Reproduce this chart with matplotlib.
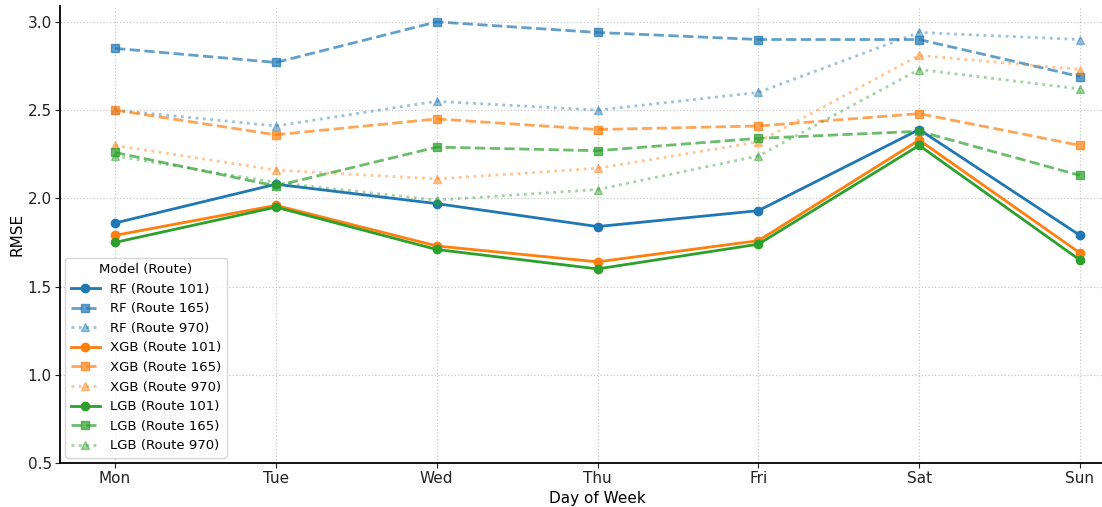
import matplotlib
matplotlib.use("Agg")
import matplotlib.pyplot as plt

days = ["Mon", "Tue", "Wed", "Thu", "Fri", "Sat", "Sun"]

rf_101 = [1.86, 2.08, 1.97, 1.84, 1.93, 2.39, 1.79]
rf_165 = [2.85, 2.77, 3.00, 2.94, 2.90, 2.90, 2.69]
rf_970 = [2.50, 2.41, 2.55, 2.50, 2.60, 2.94, 2.90]
xgb_101 = [1.79, 1.96, 1.73, 1.64, 1.76, 2.33, 1.69]
xgb_165 = [2.50, 2.36, 2.45, 2.39, 2.41, 2.48, 2.30]
xgb_970 = [2.30, 2.16, 2.11, 2.17, 2.32, 2.81, 2.73]
lgb_101 = [1.75, 1.95, 1.71, 1.60, 1.74, 2.30, 1.65]
lgb_165 = [2.26, 2.07, 2.29, 2.27, 2.34, 2.38, 2.13]
lgb_970 = [2.24, 2.09, 1.99, 2.05, 2.24, 2.73, 2.62]

models = [("RF", "#1f77b4", [rf_101, rf_165, rf_970]),
          ("XGB", "#ff7f0e", [xgb_101, xgb_165, xgb_970]),
          ("LGB", "#2ca02c", [lgb_101, lgb_165, lgb_970])]
routes = ["101", "165", "970"]
styles = [("-", "o", 1.0), ("--", "s", 0.7), (":", "^", 0.45)]

fig = plt.figure(figsize=(11.02, 5.07), dpi=100)
# the reference looks cropped on the right, so the axes run past the figure edge
ax = fig.add_axes([60 / 1102, 44 / 507, 1075 / 1102, 457 / 507])

x = range(len(days))
for name, color, series in models:
    for route, vals, (ls, mk, a) in zip(routes, series, styles):
        ax.plot(x, vals, linestyle=ls, marker=mk, color=color, alpha=a,
                linewidth=2, markersize=6, label=f"{name} (Route {route})")

ax.set_xticks(list(x))
ax.set_xticklabels(days)
ax.set_xlim(-0.342, 6.342)
ax.set_ylim(0.5, 3.09)
ax.set_yticks([0.5, 1.0, 1.5, 2.0, 2.5, 3.0])
ax.tick_params(labelsize=11, colors="#222222", pad=2.5)
ax.set_xlabel("Day of Week", fontsize=11, labelpad=3)
ax.set_ylabel("RMSE", fontsize=11, labelpad=2)
ax.grid(True, linestyle=":", color="#c8c8c8", linewidth=0.9)
ax.spines["top"].set_visible(False)
ax.spines["right"].set_visible(False)
ax.spines["left"].set_linewidth(1.3)
ax.spines["bottom"].set_linewidth(1.3)

ax.legend(title="Model (Route)", loc="lower left", fontsize=9.5,
          title_fontsize=9.5, handlelength=2.2, labelspacing=0.5,
          borderaxespad=0.4)

fig.savefig("out.png", dpi=100)
